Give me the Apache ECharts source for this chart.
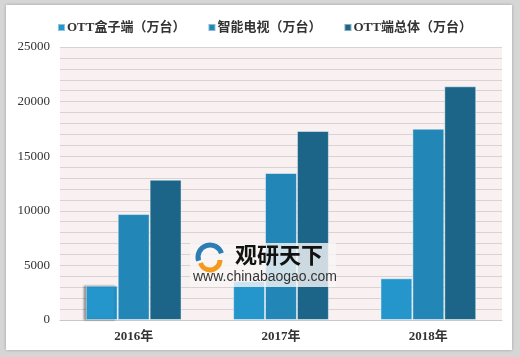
<!DOCTYPE html>
<html>
<head>
<meta charset="utf-8">
<script src="https://cdn.jsdelivr.net/npm/echarts@6/dist/echarts.min.js"></script>
<style>
  html, body { margin: 0; padding: 0; background: #d6d6d6; }
  #frame { position: absolute; left: 0; top: 0; width: 520px; height: 357px; background: #d6d6d6; }
  #chart { position: absolute; left: 6px; top: 5px; width: 506px; height: 345px; background: #ffffff; box-shadow: 0 0 3px rgba(0,0,0,0.25); }
</style>
</head>
<body>
<div id="frame"><div id="chart"></div></div>
<script>
const categories = ['2016年', '2017年', '2018年'];
const seriesNames = ['OTT盒子端（万台）', '智能电视（万台）', 'OTT端总体（万台）'];
const ottBox = [3140, 3570, 3820];
const smartTV = [9700, 13460, 17520];
const ottTotal = [12850, 17310, 21400];
const yTicks = [0, 5000, 10000, 15000, 20000, 25000];

const colors = ['#2596cc', '#2286b6', '#1c6588'];
const chart = echarts.init(document.getElementById('chart'), null, { renderer: 'canvas' });

const serif = '"Liberation Serif", "Noto Sans CJK SC", serif';

function barSeries(name, data, i) {
  return {
    name: name,
    type: 'bar',
    data: data.map(function (v, k) {
      if (i === 0 && k === 0) {
        return { value: v, itemStyle: { shadowColor: 'rgba(0,0,0,0.4)', shadowBlur: 2, shadowOffsetX: -2 } };
      }
      return v;
    }),
    barGap: '0%',
    barCategoryGap: '35%',
    itemStyle: {
      color: colors[i],
      borderColor: 'rgba(255,255,255,0.45)',
      borderWidth: 1
    }
  };
}

const option = {
  animation: false,
  color: colors,
  legend: {
    top: 11,
    left: 46,
    itemWidth: 7,
    itemHeight: 7,
    itemGap: 22,
    icon: 'rect',
    textStyle: { fontFamily: serif, fontSize: 13, color: '#333', fontWeight: 'bold', padding: [0, 0, 0, -3] },
    data: seriesNames
  },
  grid: { left: 54, right: 10, top: 42, bottom: 30, backgroundColor: '#f9f1f1', show: true, borderWidth: 0 },
  xAxis: {
    type: 'category',
    data: categories,
    axisLine: { lineStyle: { color: '#c8c8c8', width: 1 } },
    axisTick: { show: false },
    axisLabel: { fontFamily: serif, fontSize: 13, color: '#333', margin: 10, fontWeight: 'bold' }
  },
  yAxis: {
    type: 'value',
    min: 0,
    max: 25000,
    interval: 1000,
    axisLine: { show: false },
    axisTick: { show: false },
    axisLabel: {
      fontFamily: serif,
      fontSize: 13,
      color: '#333',
      margin: 10,
      formatter: function (v) { return yTicks.indexOf(v) >= 0 ? String(v) : ''; }
    },
    splitLine: { lineStyle: { color: '#d8d2d2', width: 1 } }
  },
  graphic: [
    { type: 'rect', z: 100, shape: { x: 184, y: 238, width: 146, height: 44 }, style: { fill: 'rgba(250,246,246,0.8)' } },
    { type: 'arc', z: 101, shape: { cx: 204, cy: 252, r: 12, startAngle: Math.PI * 0.9, endAngle: Math.PI * 1.9 }, style: { stroke: '#2a7db5', lineWidth: 5, fill: null } },
    { type: 'arc', z: 101, shape: { cx: 204, cy: 255, r: 10, startAngle: 0, endAngle: Math.PI * 0.9 }, style: { stroke: '#f39a1e', lineWidth: 5, fill: null } },
    { type: 'text', z: 101, style: { x: 229, y: 239, text: '观研天下', fontSize: 22, fontWeight: 'bold', fontFamily: '"Noto Sans CJK SC", sans-serif', fill: '#111' } },
    { type: 'text', z: 101, style: { x: 187, y: 265, text: 'www.chinabaogao.com', fontSize: 14, fontFamily: '"Liberation Sans", Arial, sans-serif', fill: '#333' } }
  ],
  series: [
    barSeries(seriesNames[0], ottBox, 0),
    barSeries(seriesNames[1], smartTV, 1),
    barSeries(seriesNames[2], ottTotal, 2)
  ]
};
chart.setOption(option);
</script>
</body>
</html>
